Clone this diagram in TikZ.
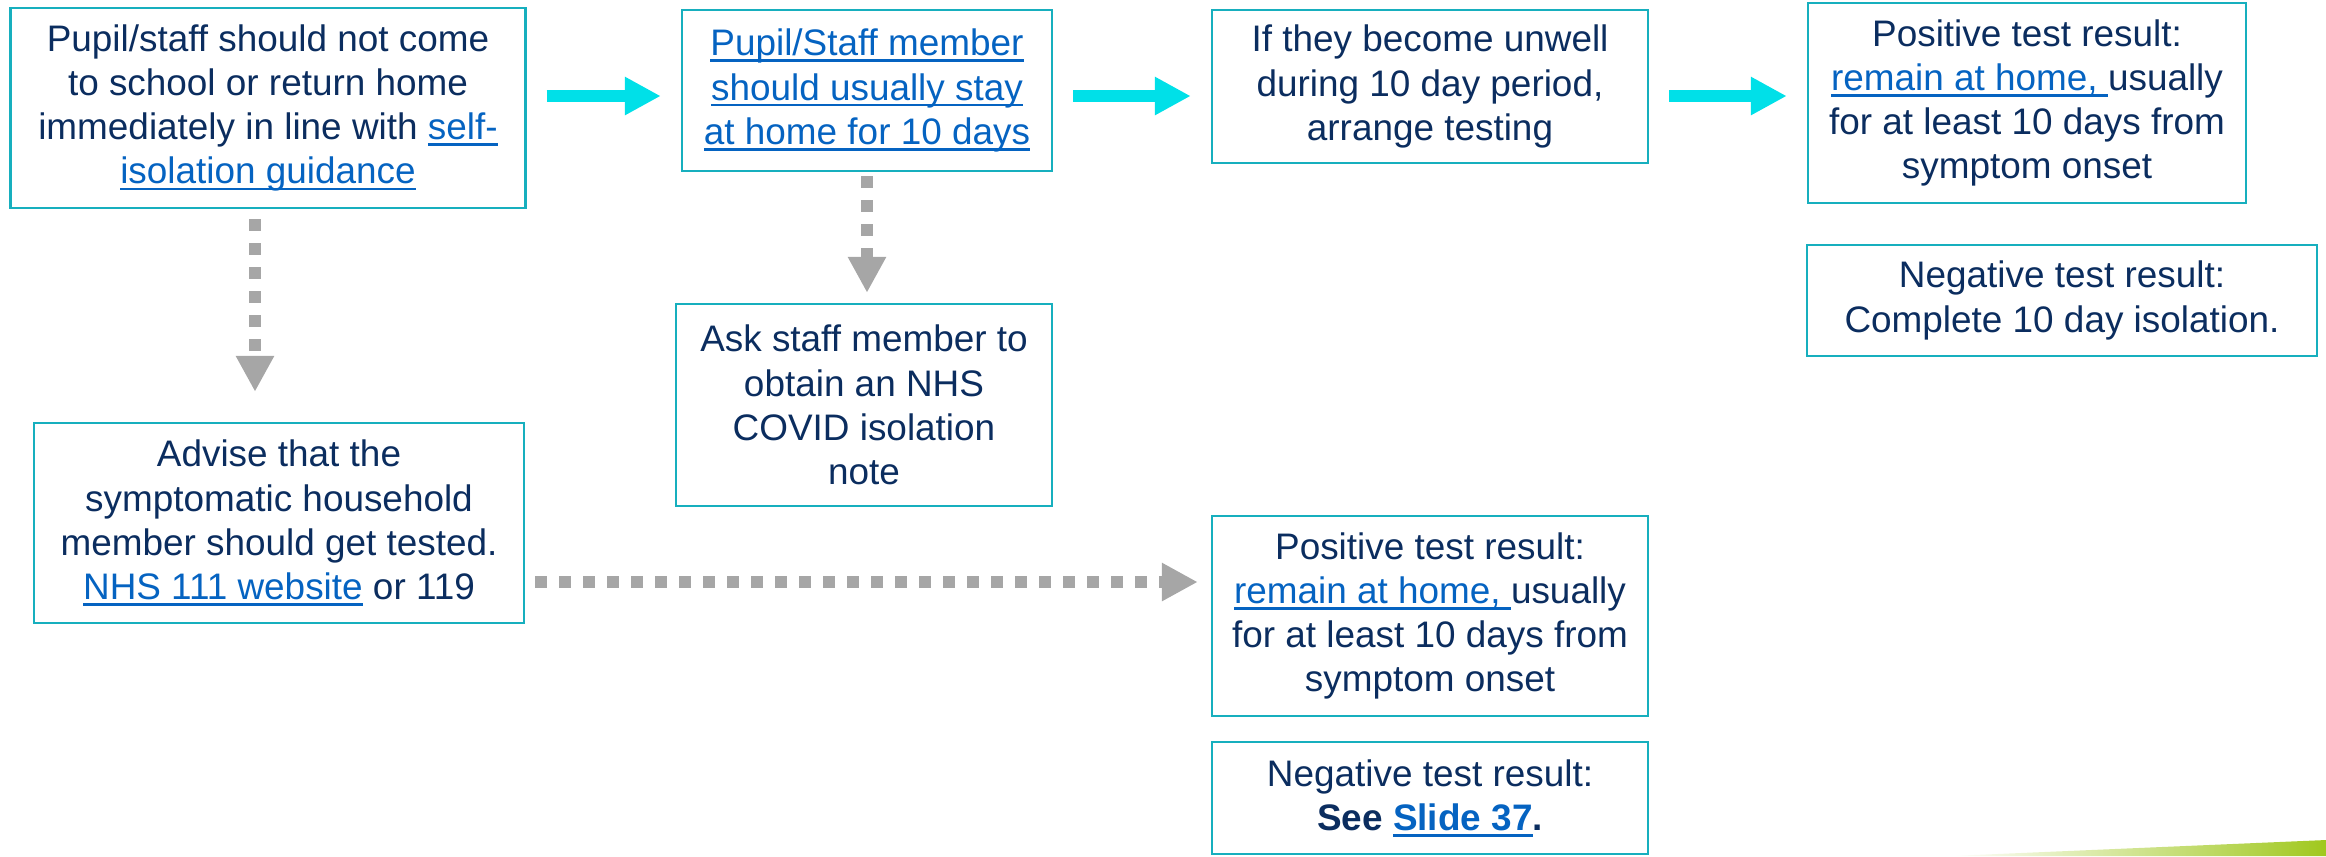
\documentclass[tikz,border=0pt]{standalone}
\usepackage{fontspec}
\setmainfont{Liberation Sans}
\usetikzlibrary{arrows.meta}
\definecolor{navy}{HTML}{0B2D5F}
\definecolor{linkblue}{HTML}{0563C1}
\definecolor{boxteal}{HTML}{17AFBE}
\definecolor{flowcyan}{HTML}{00E0E8}
\definecolor{dashgray}{HTML}{A6A6A6}
\definecolor{slidegreen}{HTML}{A0C81E}
\newcommand{\lnk}[1]{{\color{linkblue}\sbox0{#1}\rlap{\rule[-1.8pt]{\wd0}{0.75pt}}\usebox0}}
\tikzset{
	infobox/.style={draw=boxteal, line width=0.7pt, text=navy, align=center, inner sep=0pt, font=\fontsize{10.5}{12.6}\selectfont},
	flowarrow/.style={draw=flowcyan, line width=0.12cm, -{Triangle[length=0.36cm,width=0.36cm]}, shorten <=0.2cm, shorten >=0.2cm},
	waitarrow/.style={draw=dashgray, line width=0.12cm, dash pattern=on 0.12cm off 0.12cm, -{Triangle[length=0.36cm,width=0.36cm]}}
}
\begin{document}
\begin{tikzpicture}
		\useasboundingbox (0,0) rectangle (23.26,-8.56);
		\shade[left color=white, right color=slidegreen] (19.5,-8.56) -- (23.26,-8.40) -- (23.26,-8.56) -- cycle;
		
		\node[infobox, minimum width=5.15cm, minimum height=2cm] (home) at (2.68,-1.08) {Pupil/staff should not come\\ to school or return home\\ immediately in line with \lnk{self-}\\ \lnk{isolation guidance}};
		\node[infobox, minimum width=3.7cm, minimum height=1.61cm] (stay) at (8.67,-0.905) {\lnk{Pupil/Staff member}\\ \lnk{should usually stay}\\ \lnk{at home for 10 days}};
		\node[infobox, minimum width=4.36cm, minimum height=1.53cm] (unwell) at (14.3,-0.865) {If they become unwell\\ during 10 day period,\\ arrange testing};
		\node[infobox, minimum width=4.38cm, minimum height=2cm] (pos) at (20.27,-1.03) {Positive test result:\\ \lnk{remain at home,\ }usually\\ for at least 10 days from\\ symptom onset};
		\node[infobox, minimum width=5.1cm, minimum height=1.11cm] (neg) at (20.62,-3.005) {Negative test result:\\ Complete 10 day isolation.};
		\node[infobox, minimum width=3.76cm, minimum height=2.02cm] (note) at (8.64,-4.05) {Ask staff member to\\ obtain an NHS\\ COVID isolation\\ note};
		\node[infobox, minimum width=4.9cm, minimum height=2cm] (advise) at (2.79,-5.23) {Advise that the\\ symptomatic household\\ member should get tested.\\ \lnk{NHS 111 website} or 119};
		\node[infobox, minimum width=4.36cm, minimum height=2cm] (hhpos) at (14.3,-6.16) {Positive test result:\\ \lnk{remain at home,\ }usually\\ for at least 10 days from\\ symptom onset};
		\node[infobox, minimum width=4.36cm, minimum height=1.12cm] (hhneg) at (14.3,-7.98) {Negative test result:\\ \textbf{See \lnk{Slide 37}.}};
		
		\draw[flowarrow] (home.east |- 0,-0.96) -- (stay.west |- 0,-0.96);
		\draw[flowarrow] (stay.east |- 0,-0.96) -- (unwell.west |- 0,-0.96);
		\draw[flowarrow] (unwell.east |- 0,-0.96) -- (pos.west |- 0,-0.96);
		\draw[waitarrow, shorten <=0.1cm, shorten >=0.3cm] (home.south -| 2.55,0) -- (advise.north -| 2.55,0);
		\draw[waitarrow, shorten <=0.04cm, shorten >=0.1cm] (stay.south) -- (stay.south |- note.north);
		\draw[waitarrow, shorten <=0.1cm, shorten >=0.13cm] (advise.east |- 0,-5.82) -- (hhpos.west |- 0,-5.82);
	\end{tikzpicture}
\end{document}
